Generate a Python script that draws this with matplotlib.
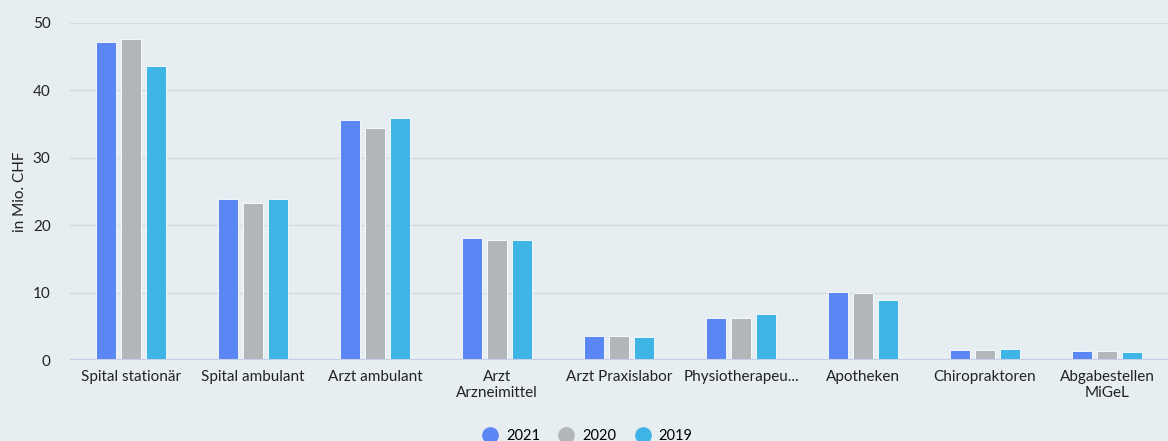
import numpy as np
import matplotlib.pyplot as plt
from matplotlib.lines import Line2D

plt.rcParams['font.family'] = ['Lato', 'DejaVu Sans']

categories = ['Spital stationär', 'Spital ambulant', 'Arzt ambulant', 'Arzt\nArzneimittel',
              'Arzt Praxislabor', 'Physiotherapeu...', 'Apotheken', 'Chiropraktoren',
              'Abgabestellen\nMiGeL']
v2021 = [47.2, 23.9, 35.6, 18.1, 3.6, 6.2, 10.1, 1.5, 1.3]
v2020 = [47.6, 23.3, 34.4, 17.8, 3.5, 6.2, 9.9, 1.5, 1.3]
v2019 = [43.6, 23.9, 35.9, 17.8, 3.4, 6.8, 8.9, 1.6, 1.2]
years = ['2021', '2020', '2019']
colors = ['#5b87f5', '#b3b6b9', '#3fb5e5']

bg = '#e6eef2'
fig = plt.figure(figsize=(11.68, 4.41), dpi=100, facecolor=bg)
ax = fig.add_axes([70/1168, 81/441, 1098/1168, 337/441], facecolor=bg)

x = np.arange(len(categories))
w = 0.164
step = 0.205
for i, (vals, c) in enumerate(zip([v2021, v2020, v2019], colors)):
    ax.bar(x + (i - 1) * step, vals, width=w, color=c, edgecolor='white', linewidth=0.6, zorder=3)

ax.set_xlim(-0.5, len(categories) - 0.5)
ax.set_ylim(0, 50)
ax.set_yticks([0, 10, 20, 30, 40, 50])
ax.grid(axis='y', color='#d3dbe0', linewidth=1, zorder=0)
ax.axhline(0, color='#c5d0e6', linewidth=1.5, zorder=4)
for s in ax.spines.values():
    s.set_visible(False)
ax.set_xticks(x)
ax.set_xticklabels(categories, fontsize=11, color='#222222', linespacing=1.25)
ax.tick_params(axis='both', length=0, labelsize=11, colors='#222222')
ax.tick_params(axis='x', pad=7)
ax.tick_params(axis='y', pad=14)
ax.set_ylabel('in Mio. CHF', fontsize=11, color='#222222', labelpad=4)

handles = [Line2D([], [], marker='o', linestyle='', markersize=11, color=c) for c in colors]
fig.legend(handles, years, loc='lower center', bbox_to_anchor=(0.5, -0.035), ncol=3,
           frameon=False, fontsize=10.5, handletextpad=0.1, columnspacing=0.8)

fig.savefig('out.png', dpi=100, facecolor=bg)
